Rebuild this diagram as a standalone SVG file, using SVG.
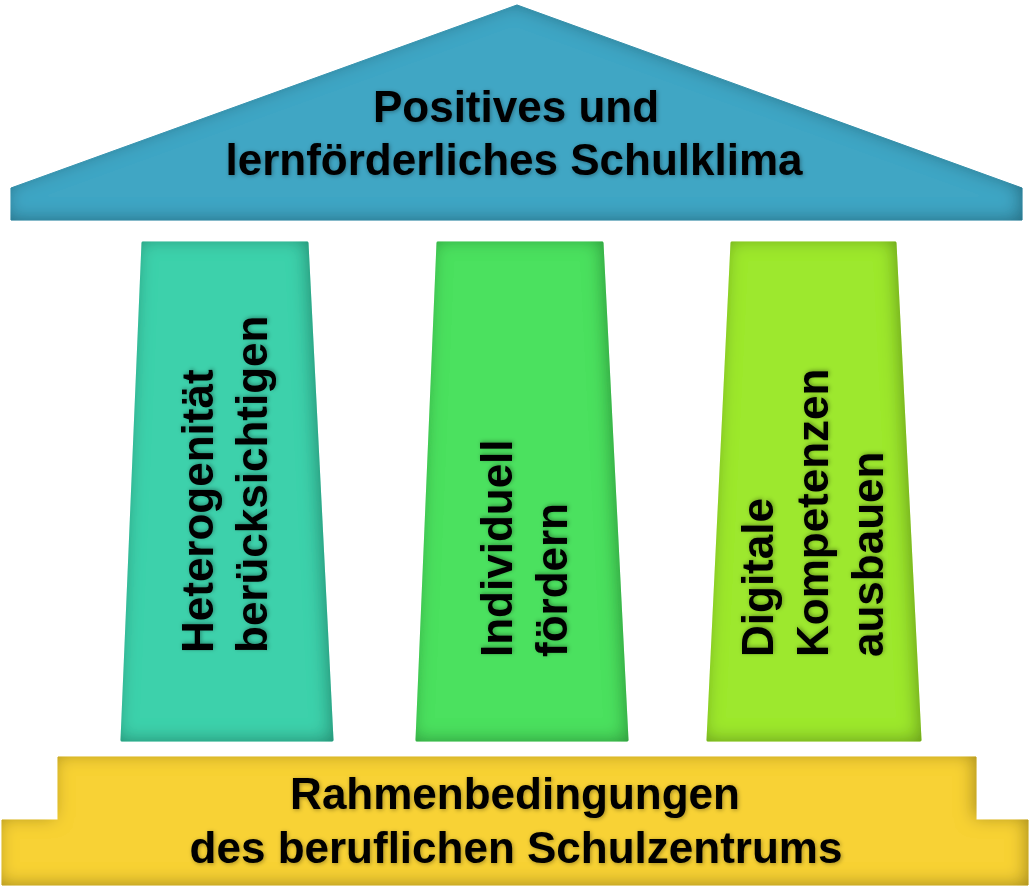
<svg xmlns="http://www.w3.org/2000/svg" width="1030" height="889" viewBox="0 0 1030 889">
  <style>
    .lbl { font-family: "Liberation Sans", Arial, sans-serif; font-weight: bold; font-size: 44px; fill: #000; filter: url(#txt); }
    .mid { text-anchor: middle; }
    .shape { filter: url(#bevel); stroke-linejoin: round; }
  </style>
  <defs>
    <filter id="bevel" x="-5%" y="-5%" width="110%" height="110%">
      <feGaussianBlur in="SourceAlpha" stdDeviation="9" result="blur"/>
      <feOffset in="blur" dx="-3" dy="-2" result="ob"/>
      <feComposite in="SourceAlpha" in2="ob" operator="out" result="inv"/>
      <feFlood flood-color="#000" flood-opacity="0.62"/>
      <feComposite in2="inv" operator="in" result="sh"/>
      <feMerge><feMergeNode in="SourceGraphic"/><feMergeNode in="sh"/></feMerge>
    </filter>
    <filter id="txt" x="-10%" y="-30%" width="120%" height="160%">
      <feGaussianBlur in="SourceAlpha" stdDeviation="2" result="b"/>
      <feOffset in="b" dx="1" dy="1" result="o"/>
      <feFlood flood-color="#000" flood-opacity="0.35"/>
      <feComposite in2="o" operator="in" result="s"/>
      <feMerge><feMergeNode in="s"/><feMergeNode in="SourceGraphic"/></feMerge>
    </filter>
  </defs>
  <rect width="1030" height="889" fill="#fff"/>

  <g id="roof">
    <polygon class="shape" points="517,5 1022,188 1022,220 11,220 11,188" fill="#41A6C4" stroke="#41A6C4" stroke-width="1"/>
    <text class="lbl mid" x="516" y="122">Positives und</text>
    <text class="lbl mid" x="514" y="175">lernförderliches Schulklima</text>
  </g>

  <g id="pillar-1">
    <polygon class="shape" points="143,243 307,243 332,740 122,740" fill="#3ED1AB" stroke="#3ED1AB" stroke-width="3"/>
    <text class="lbl" transform="translate(213,653) rotate(-90)">Heterogenität</text>
    <text class="lbl" transform="translate(267,653) rotate(-90)">berücksichtigen</text>
  </g>

  <g id="pillar-2">
    <polygon class="shape" points="438,243 602,243 627,740 417,740" fill="#4BE15E" stroke="#4BE15E" stroke-width="3"/>
    <text class="lbl" transform="translate(512,657) rotate(-90)">Individuell</text>
    <text class="lbl" transform="translate(567,657) rotate(-90)">fördern</text>
  </g>

  <g id="pillar-3">
    <polygon class="shape" points="732,243 895,243 920,740 708,740" fill="#9DE82E" stroke="#9DE82E" stroke-width="3"/>
    <text class="lbl" transform="translate(773,657) rotate(-90)">Digitale</text>
    <text class="lbl" transform="translate(828,657) rotate(-90)">Kompetenzen</text>
    <text class="lbl" transform="translate(883,657) rotate(-90)">ausbauen</text>
  </g>

  <g id="base">
    <polygon class="shape" points="58,757 976,757 976,820 1028,820 1028,885 2,885 2,820 58,820" fill="#F8D236" stroke="#F8D236" stroke-width="1"/>
    <text class="lbl mid" x="515" y="809">Rahmenbedingungen</text>
    <text class="lbl mid" x="516" y="863">des beruflichen Schulzentrums</text>
  </g>

  <g id="connectors"/>
</svg>
